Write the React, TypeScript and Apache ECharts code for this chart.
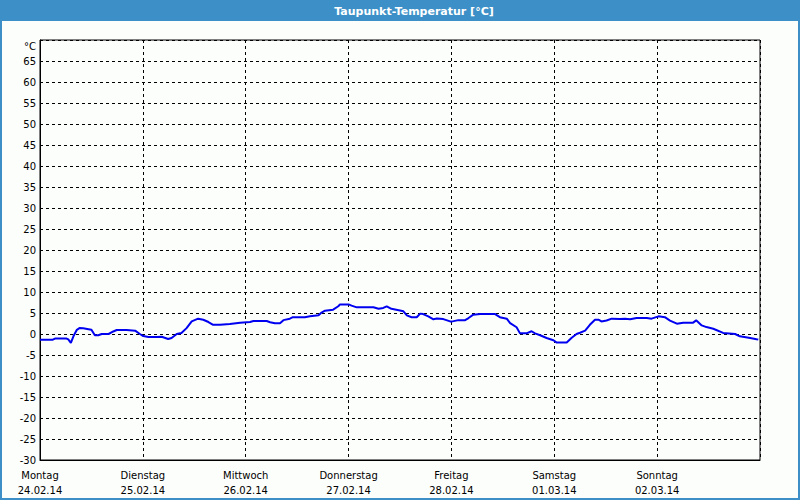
import React, { useEffect, useRef } from "react";
import * as echarts from "echarts";

const dayNames = ["Montag", "Dienstag", "Mittwoch", "Donnerstag", "Freitag", "Samstag", "Sonntag"];
const dayDates = ["24.02.14", "25.02.14", "26.02.14", "27.02.14", "28.02.14", "01.03.14", "02.03.14"];

// hours since Monday 00:00
const hours = [
  0, 3, 3.5, 6.2, 6.6, 7.2, 7.8, 8.6, 9.2, 10.1, 11, 12, 12.8, 13.6, 14.4, 16, 17.1, 17.9, 20.2, 22.2,
  23.3, 24.1, 25.3, 27.2, 28.4, 29.9, 30.7, 31.9, 33, 34.2, 35.4, 36.9, 38.1, 39.3, 40.4, 42, 44.3, 46.7,
  49, 49.8, 52.9, 53.7, 54.8, 56, 56.8, 58.3, 59, 61.8, 63, 65, 65.7, 66.5, 68.4, 69.6, 70, 72, 72.7,
  73.9, 77.8, 79, 80.1, 80.9, 82, 84, 84.8, 85.6, 86.7, 87.9, 88.7, 89.4, 90.6, 91.8, 92.6, 94.1, 95.7,
  96, 97.6, 99.2, 100, 101.1, 102.7, 106.2, 107.3, 108.9, 109.7, 111.2, 112, 113.5, 114.7, 115.5, 116.7,
  118.2, 119.8, 120.5, 122.9, 124, 125.2, 126, 127.2, 128.3, 129.5, 130.3, 131, 132.2, 133.4, 135.3,
  136.5, 137.7, 139.2, 141.6, 142.7, 144.3, 145.8, 147, 148.6, 150.1, 152.4, 153.1, 154.4, 155.5, 157.1,
  159.4, 162.2, 163.3, 165.7, 167.2, 167.6,
];
const dewPoint = [
  -1.35, -1.35, -1.1, -1.1, -1.3, -2.1, -0.55, 1.0, 1.4, 1.35, 1.2, 1.0, -0.3, -0.3, 0, 0, 0.6, 0.95, 0.95, 0.8,
  0, -0.5, -0.7, -0.7, -0.65, -1.2, -0.95, 0, 0.25, 1.4, 3.0, 3.65, 3.4, 2.85, 2.2, 2.2, 2.4, 2.7,
  2.85, 3.1, 3.1, 2.8, 2.55, 2.55, 3.3, 3.65, 4.0, 4.0, 4.2, 4.45, 5.1, 5.55, 5.8, 6.6, 7.05, 7.05, 6.75,
  6.35, 6.35, 6.0, 6.2, 6.6, 6.0, 5.6, 5.4, 4.45, 4.0, 4.0, 4.85, 4.75, 4.2, 3.5, 3.7, 3.55, 3.0,
  2.95, 3.3, 3.3, 3.8, 4.6, 4.75, 4.75, 4.0, 3.65, 2.6, 1.6, 0.15, 0.15, 0.65, 0.15, -0.3,
  -0.95, -1.5, -2.0, -2.0, -0.95, 0, 0.3, 0.8, 2.2, 3.4, 3.4, 3.0, 3.2, 3.65, 3.55,
  3.65, 3.5, 3.8, 3.8, 3.65, 4.2, 4.0, 3.2, 2.45, 2.7, 2.7, 3.25, 2.05, 1.65, 1.25,
  0.25, 0, -0.55, -0.95, -1.25, -1.3,
];

const TITLE = "Taupunkt-Temperatur [°C]";
const UNIT = "°C";

export default function App() {
  const ref = useRef<HTMLDivElement>(null);
  useEffect(() => {
    if (!ref.current) return;
    const chart = echarts.init(ref.current, null, { renderer: "svg" });
    const blue = "#3d90c7";
    const font = "DejaVu Sans";
    chart.setOption({
      animation: false,
      backgroundColor: "#fcfefc",
      textStyle: { fontFamily: font },
      grid: {
        left: 40,
        right: 40,
        top: 40,
        bottom: 40,
        show: true,
        borderColor: "#000",
        borderWidth: 1,
        backgroundColor: "transparent",
      },
      graphic: [
        { type: "rect", left: 0, top: 0, shape: { width: 800, height: 21 }, style: { fill: blue } },
        { type: "rect", left: 0, top: 0, shape: { width: 2, height: 500 }, style: { fill: blue } },
        { type: "rect", right: 0, top: 0, shape: { width: 2, height: 500 }, style: { fill: blue } },
        { type: "rect", left: 0, bottom: 0, shape: { width: 800, height: 2 }, style: { fill: blue } },
        {
          type: "text",
          x: 414,
          y: 11,
          style: {
            text: TITLE,
            fill: "#fff",
            font: `bold 11px "${font}"`,
            align: "center",
            verticalAlign: "middle",
          },
        },
        {
          type: "text",
          x: 36,
          y: 46,
          style: {
            text: UNIT,
            fill: "#000",
            font: `10px "${font}"`,
            align: "right",
            verticalAlign: "middle",
          },
        },
      ],
      xAxis: {
        type: "value",
        min: 0,
        max: 168,
        interval: 24,
        axisLine: { show: true, onZero: false, lineStyle: { color: "#000", width: 1 } },
        axisTick: { show: false },
        splitLine: { show: true, lineStyle: { color: "#000", type: [3, 3], width: 1 } },
        axisLabel: {
          color: "#000",
          fontSize: 10,
          fontFamily: font,
          lineHeight: 15,
          margin: 8,
          formatter: (v: number) => {
            const i = Math.round(v / 24);
            if (i >= dayNames.length) return "";
            return `${dayNames[i]}\n${dayDates[i]}`;
          },
        },
      },
      yAxis: {
        type: "value",
        min: -30,
        max: 70,
        interval: 5,
        axisLine: { show: true, onZero: false, lineStyle: { color: "#000", width: 1 } },
        axisTick: { show: false },
        splitLine: { show: true, lineStyle: { color: "#000", type: [3, 3], width: 1 } },
        axisLabel: {
          color: "#000",
          fontSize: 10,
          fontFamily: font,
          margin: 4,
          formatter: (v: number) => (v >= 70 ? "" : String(v)),
        },
      },
      series: [
        {
          type: "line",
          data: hours.map((h, i) => [h, dewPoint[i]]),
          showSymbol: false,
          lineStyle: { color: "#0000f0", width: 2 },
          itemStyle: { color: "#0000f0" },
        },
      ],
    });
    return () => chart.dispose();
  }, []);
  return (
    <div
      ref={ref}
      style={{ position: "fixed", left: 0, top: 0, width: 800, height: 500 }}
    />
  );
}
